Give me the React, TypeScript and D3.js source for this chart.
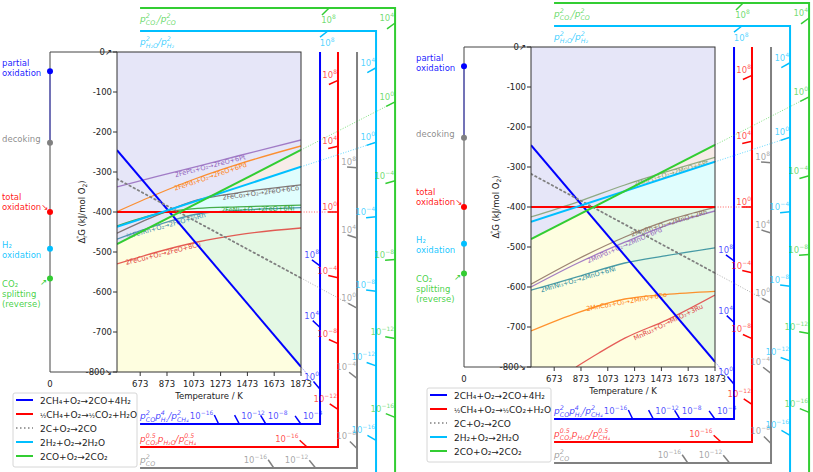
import * as d3 from 'd3';
import React from 'react';

const R_GAS = 8.314e-3; // kJ/mol/K

// axes
const tempTicks = [673, 873, 1073, 1273, 1473, 1673, 1873];
const dGTicks = [0, -100, -200, -300, -400, -500, -600, -700, -800];
const ratioExponents = [-16, -12, -8, -4, 0, 4, 8];

// main reactions: partial ox, total ox, decoking, H2 ox, CO ox
const rxnNames = ['2CH₄+O₂→2CO+4H₂', '½CH₄+O₂→½CO₂+H₂O', '2C+O₂→2CO', '2H₂+O₂→2H₂O', '2CO+O₂→2CO₂'];
const rxnColors = ['#0000ff', '#ff0000', '#808080', '#00bfff', '#32cd32'];
const dGat0K = [-48, -400, -227, -492, -566];
const dGat1873K = [-787, -400, -565, -287, -245];
const processNames = [['partial', 'oxidation'], ['total', 'oxidation↘'], ['decoking'], ['H₂', 'oxidation'], ['CO₂', 'splitting', ' (reverse)']];

// Fe based oxygen carriers
const feTemps = [500, 800, 1100, 1400, 1873];
const fePt3 = [-337, -311, -286, -260, -220];
const fePd3 = [-399, -355, -315, -281, -235];
const feCo3 = [-453, -408, -370, -352, -332];
const feNi3 = [-435, -405, -391, -387, -383];
const fe3Rh = [-468, -433, -405, -396, -389];
const feCu4 = [-530, -500, -475, -457, -440];

// Mn based oxygen carriers
const mnTemps = [500, 850, 1200, 1500, 1873];
const mnPt3 = [-425, -387, -345, -313, -276];
const mnRh = [-593, -530, -475, -436, -401];
const mnPd3 = [-600, -540, -488, -447, -410];
const mnNi3 = [-608, -574, -540, -522, -502];
const mnCo3 = [-710, -664, -630, -619, -611];
const ruTemps = [836, 1006, 1200, 1516, 1873];
const mnRu3 = [-800, -765, -728, -682, -620];

type Metal = { name: string; color: string; temps: number[]; vals: number[]; labelT: number };

const feMetals: Metal[] = [
  { name: '2FePt₃+O₂→2FeO+6Pt', color: '#9467bd', temps: feTemps, vals: fePt3, labelT: 1190 },
  { name: '2FePd₃+O₂→2FeO+6Pd', color: '#ff7f0e', temps: feTemps, vals: fePd3, labelT: 1190 },
  { name: '2FeCo₃+O₂→2FeO+6Co', color: '#6f5f5f', temps: feTemps, vals: feCo3, labelT: 1570 },
  { name: '2FeNi₃+O₂→2FeO+6Ni', color: '#2ca02c', temps: feTemps, vals: feNi3, labelT: 1550 },
  { name: '⅔Fe₃Rh+O₂→2FeO+⅔Rh', color: '#3a86a8', temps: feTemps, vals: fe3Rh, labelT: 860 },
  { name: '2FeCu₄+O₂→2FeO+8Cu', color: '#e0403a', temps: feTemps, vals: feCu4, labelT: 840 },
];
const mnMetals: Metal[] = [
  { name: '2MnPt₃+O₂→2MnO+6Pt', color: '#7f9f6f', temps: mnTemps, vals: mnPt3, labelT: 1540 },
  { name: '2MnRh+O₂→2MnO+2Rh', color: '#8c6f5f', temps: mnTemps, vals: mnRh, labelT: 1525 },
  { name: '2MnPd₃+O₂→2MnO+6Pd', color: '#9467bd', temps: mnTemps, vals: mnPd3, labelT: 1190 },
  { name: '2MnNi₃+O₂→2MnO+6Ni', color: '#2a8a9a', temps: mnTemps, vals: mnNi3, labelT: 845 },
  { name: '2MnCo₃+O₂→2MnO+6Co', color: '#ff7f0e', temps: mnTemps, vals: mnCo3, labelT: 1210 },
  { name: 'MnRu₃+O₂→MnO₂+3Ru', color: '#e04040', temps: ruTemps, vals: mnRu3, labelT: 1516 },
];

// nomographic ratio scales (layout, in T / dG coordinates)
type Seg = { t: string; sup?: string; sub?: string };
const nomo: { kind: 'bottom' | 'top'; Tv: number; Gh: number; Gend: number; label: Seg[]; leftSide: number[] }[] = [
  { kind: 'bottom', Tv: 2015, Gh: -930, Gend: 0, leftSide: [-16],
    label: [{ t: 'p', sup: '2', sub: 'CO' }, { t: 'p', sup: '4', sub: 'H₂' }, { t: '/p', sup: '2', sub: 'CH₄' }] },
  { kind: 'bottom', Tv: 2149, Gh: -987.5, Gend: 0, leftSide: [-16],
    label: [{ t: 'p', sup: '0.5', sub: 'CO₂' }, { t: 'p', sub: 'H₂O' }, { t: '/p', sup: '0.5', sub: 'CH₄' }] },
  { kind: 'bottom', Tv: 2291, Gh: -1040, Gend: 0, leftSide: [-16, -12],
    label: [{ t: 'p', sup: '2', sub: 'CO' }] },
  { kind: 'top', Tv: 2433, Gh: 52.5, Gend: -1120, leftSide: [],
    label: [{ t: 'p', sup: '2', sub: 'H₂O' }, { t: '/p', sup: '2', sub: 'H₂' }] },
  { kind: 'top', Tv: 2575, Gh: 110, Gend: -1120, leftSide: [],
    label: [{ t: 'p', sup: '2', sub: 'CO₂' }, { t: '/p', sup: '2', sub: 'CO' }] },
];
const nomoStart = 672;
const processOffsets = [-3, -10, -4, 1, 16];

const fills = { top: '#e6e6f8', pink: '#f7ece8', cyan: '#e0fdfd', green: '#e4f8e4', yellow: '#fefee0' };
const FONT = "'DejaVu Sans', sans-serif";

const glyphW = (s: string, fs: number) =>
  s.split('').reduce((a, c) => a + (c === '.' ? 0.318 : c === '−' ? 0.838 : 0.636) * fs, 0);

function MathLabel({ x, y, segs, color }: { x: number; y: number; segs: Seg[]; color: string }) {
  const fs = 9, sfs = 6.3;
  const parts: React.ReactNode[] = [];
  let cur = 0;
  const shift = (target: number) => {
    const d = target - cur;
    cur = target;
    return d;
  };
  segs.forEach((s, i) => {
    parts.push(<tspan key={`b${i}`} dy={shift(0)} fontSize={fs}>{s.t}</tspan>);
    if (s.sup) parts.push(<tspan key={`p${i}`} dy={shift(-4)} fontSize={sfs}>{s.sup}</tspan>);
    if (s.sub) parts.push(
      <tspan key={`s${i}`} dy={shift(2.5)} dx={s.sup ? -glyphW(s.sup, sfs) : 0} fontSize={sfs}>{s.sub}</tspan>);
  });
  return <text x={x} y={y} fill={color} fillOpacity={0.75} fontStyle="italic">{parts}</text>;
}

function Pow({ x, y, e, color, anchor }: { x: number; y: number; e: number; color: string; anchor: string }) {
  const es = e < 0 ? `−${-e}` : `${e}`;
  return (
    <text x={x} y={y} fill={color} fillOpacity={0.7} fontSize={8.5} textAnchor={anchor}>
      10<tspan dy={-4} fontSize={6}>{es}</tspan>
    </text>
  );
}

function Panel({ dx, dy, id, metals }: { dx: number; dy: number; id: string; metals: Metal[] }) {
  const x = d3.scaleLinear().domain([0, 1873]).range([50 + dx, 301 + dx]);
  const y = d3.scaleLinear().domain([-800, 0]).range([372 + dy, 52 + dy]);
  const T0 = 500, T1 = 1873;
  const G = (i: number, T: number) => dGat0K[i] + ((dGat1873K[i] - dGat0K[i]) * T) / 1873;
  const Ts = d3.range(0, 301).map((k) => T0 + ((T1 - T0) * k) / 300);

  const band = (hi: (T: number) => number, lo: (T: number) => number) =>
    d3.area<number>().x((T) => x(T)).y0((T) => y(lo(T))).y1((T) => y(hi(T)))(Ts) || '';
  const co = (T: number) => G(4, T);
  const m1 = (T: number) => Math.min(G(4, T), G(3, T));
  const m2 = (T: number) => Math.min(m1(T), G(1, T));
  const m3 = (T: number) => Math.min(m2(T), G(0, T));

  const px0 = x(T0), px1 = x(T1), py0 = y(0), py1 = y(-800);
  const lineGen = d3.line<[number, number]>().x((d) => x(d[0])).y((d) => y(d[1])).curve(d3.curveMonotoneX);

  // nomogram ticks
  const ln10 = Math.log(10);
  const scaleEls: React.ReactNode[] = [];
  nomo.forEach((L, i) => {
    const col = rxnColors[i];
    const G0 = dGat0K[i];
    const s0 = (dGat1873K[i] - G0) / 1873;
    const ox = x(0), oy = y(G0);
    const xv = x(L.Tv), yh = y(L.Gh), xs = x(nomoStart);
    scaleEls.push(
      <path key={`ax${i}`} d={`M${xs},${yh}H${xv}V${y(L.Gend)}`} fill="none" stroke={col} strokeWidth={2} />
    );
    const ly = L.kind === 'bottom' ? yh - 5 : yh + 14;
    scaleEls.push(<MathLabel key={`lb${i}`} x={xs} y={ly} segs={L.label} color={col} />);
    // dotted extension of the standard line to the scale
    const Gq1 = G0 + s0 * L.Tv;
    scaleEls.push(
      <line key={`ext${i}`} x1={x(1873)} y1={y(dGat1873K[i])} x2={xv} y2={y(Gq1)} stroke={col}
        strokeWidth={0.9} strokeDasharray="1,1.6" strokeOpacity={0.7} />
    );
    ratioExponents.forEach((e) => {
      const s = s0 + R_GAS * ln10 * e;
      const Gv = G0 + s * L.Tv;
      let P: [number, number] | null = null;
      let onV = false;
      const vOk = L.kind === 'bottom' ? Gv >= L.Gh && Gv <= L.Gend : Gv <= L.Gh && Gv >= L.Gend;
      if (vOk) {
        P = [xv, y(Gv)];
        onV = true;
      } else {
        const T = (L.Gh - G0) / s;
        if (T >= nomoStart && T <= L.Tv) P = [x(T), yh];
      }
      if (!P) return;
      const ddx = P[0] - ox, ddy = P[1] - oy;
      const len = Math.hypot(ddx, ddy);
      const tl = 10;
      const S: [number, number] = [P[0] - (tl * ddx) / len, P[1] - (tl * ddy) / len];
      scaleEls.push(
        <line key={`t${i}_${e}`} x1={S[0]} y1={S[1]} x2={P[0]} y2={P[1]} stroke={col} strokeWidth={1.5} />
      );
      if (onV) {
        scaleEls.push(<Pow key={`tl${i}_${e}`} x={P[0] - 1} y={Math.min(S[1], P[1]) - 2} e={e} color={col} anchor="end" />);
      } else if (L.kind === 'bottom') {
        const left = L.leftSide.includes(e);
        scaleEls.push(
          <Pow key={`tl${i}_${e}`} x={left ? S[0] - 1 : P[0] + 2} y={yh - 5} e={e} color={col} anchor={left ? 'end' : 'start'} />
        );
      } else {
        scaleEls.push(<Pow key={`tl${i}_${e}`} x={P[0] - 8} y={yh + 15} e={e} color={col} anchor="start" />);
      }
    });
  });

  const clipId = `clip-${id}`;
  const lg = { x: 13 + dx, y: 393 + dy };

  return (
    <g fontFamily={FONT}>
      <defs>
        <clipPath id={clipId}>
          <rect x={px0} y={py0} width={px1 - px0} height={py1 - py0} />
        </clipPath>
      </defs>
      {scaleEls}
      <g clipPath={`url(#${clipId})`}>
        <rect x={px0} y={py0} width={px1 - px0} height={py1 - py0} fill={fills.top} />
        <path d={band(co, m1)} fill={fills.pink} />
        <path d={band(m1, m2)} fill={fills.cyan} />
        <path d={band(m2, m3)} fill={fills.green} />
        <path d={band(m3, () => -900)} fill={fills.yellow} />
        {metals.map((m) => (
          <path key={m.name} d={lineGen(m.temps.map((t, k) => [t, m.vals[k]] as [number, number])) || ''}
            fill="none" stroke={m.color} strokeWidth={1.3} strokeOpacity={0.85} />
        ))}
        {metals.map((m) => {
          const f = d3.scaleLinear().domain(m.temps).range(m.vals);
          const xa = x(m.labelT - 40), ya = y(f(m.labelT - 40));
          const xb = x(m.labelT + 40), yb = y(f(m.labelT + 40));
          const ang = (Math.atan2(yb - ya, xb - xa) * 180) / Math.PI;
          return (
            <text key={`l${m.name}`} transform={`translate(${x(m.labelT)},${y(f(m.labelT))}) rotate(${ang})`}
              textAnchor="middle" dy={5} fontSize={6.6} fill={m.color}>{m.name}</text>
          );
        })}
        {[0, 1, 2, 3, 4].map((i) => (
          <line key={`r${i}`} x1={x(T0)} y1={y(G(i, T0))} x2={x(T1)} y2={y(G(i, T1))} stroke={rxnColors[i]}
            strokeWidth={i === 2 ? 1.8 : 2} strokeDasharray={i === 2 ? '1.5,3.2' : undefined}
            strokeLinecap={i === 2 ? 'round' : 'butt'} />
        ))}
      </g>
      {/* frame */}
      <rect x={px0} y={py0} width={px1 - px0} height={py1 - py0} fill="none" stroke="#333" strokeWidth={1} />
      <path d={`M${px0},${py0}H${x(0)}V${py1}H${px0}`} fill="none" stroke="#444" strokeWidth={1} />
      <line x1={x(0)} y1={y(dGat0K[0])} x2={x(0)} y2={y(dGat0K[2])} stroke="#4444cc" strokeWidth={1} />
      {/* y ticks */}
      {dGTicks.map((g) => (
        <g key={`yt${g}`}>
          <line x1={px0 - 4} x2={px0} y1={y(g)} y2={y(g)} stroke="#333" />
          <text x={px0 - 5} y={y(g) + 3} textAnchor="end" fontSize={8.5} fill="#222">
            {g === 0 ? '0↗' : g === -800 ? '-800↘' : `${g}`}
          </text>
        </g>
      ))}
      <text transform={`translate(${85 + dx},${212 + dy}) rotate(-90)`} textAnchor="middle" fontSize={8.5} fill="#222">
        Δ<tspan dy={2} fontSize={6}>r</tspan><tspan dx={-3.5} dy={-6.5} fontSize={6}>°</tspan>
        <tspan dy={4.5}>G (kJ/mol O</tspan><tspan dy={2} fontSize={6}>2</tspan><tspan dy={-2}>)</tspan>
      </text>
      {/* x ticks */}
      {tempTicks.map((t) => (
        <g key={`xt${t}`}>
          <line x1={x(t)} x2={x(t)} y1={py1} y2={py1 + 4} stroke="#333" />
          <text x={x(t)} y={py1 + 15} textAnchor="middle" fontSize={8.5} fill="#222">{t}</text>
        </g>
      ))}
      <text x={x(0)} y={py1 + 15} textAnchor="middle" fontSize={8.5} fill="#222">0</text>
      <text x={x((T0 + T1) / 2)} y={py1 + 27} textAnchor="middle" fontSize={8.5} fill="#222">Temperature / K</text>
      {/* process points on the 0 K axis */}
      {processNames.map((lines, i) => {
        const cy = y(dGat0K[i]);
        const mid = cy + processOffsets[i];
        const start = mid - ((lines.length - 1) * 10) / 2;
        return (
          <g key={`pp${i}`}>
            <circle cx={x(0)} cy={cy} r={3} fill={rxnColors[i]} />
            {lines.map((ln, k) => (
              <text key={k} x={2 + dx} y={start + k * 10 + 3} fontSize={8.5} fill={rxnColors[i]} fillOpacity={0.9}>{ln}</text>
            ))}
          </g>
        );
      })}
      <text x={40 + dx} y={y(dGat0K[4]) + 7} fontSize={8.5} fill={rxnColors[4]}>↗</text>
      {/* legend */}
      <rect x={lg.x} y={lg.y} width={124} height={74} rx={2} fill="#fff" fillOpacity={0.9} stroke="#ccc" strokeWidth={0.8} />
      {rxnNames.map((n, i) => (
        <g key={`lg${i}`}>
          <line x1={lg.x + 3} x2={lg.x + 20} y1={lg.y + 7 + i * 14} y2={lg.y + 7 + i * 14} stroke={rxnColors[i]}
            strokeWidth={i === 2 ? 1.6 : 2} strokeDasharray={i === 2 ? '1.5,2.5' : undefined} />
          <text x={lg.x + 27} y={lg.y + 10.5 + i * 14} fontSize={9} fill="#222">
            {n.split('½').map((part, k) => (
              <React.Fragment key={k}>
                {k > 0 && <tspan fontSize={6.5}>½</tspan>}
                {part}
              </React.Fragment>
            ))}
          </text>
        </g>
      ))}
    </g>
  );
}

export default function App() {
  return (
    <svg width={813} height={472} style={{ position: 'absolute', left: 0, top: 0, background: '#fff' }}>
      <Panel dx={0} dy={0} id="fe" metals={feMetals} />
      <Panel dx={414} dy={-5} id="mn" metals={mnMetals} />
    </svg>
  );
}
